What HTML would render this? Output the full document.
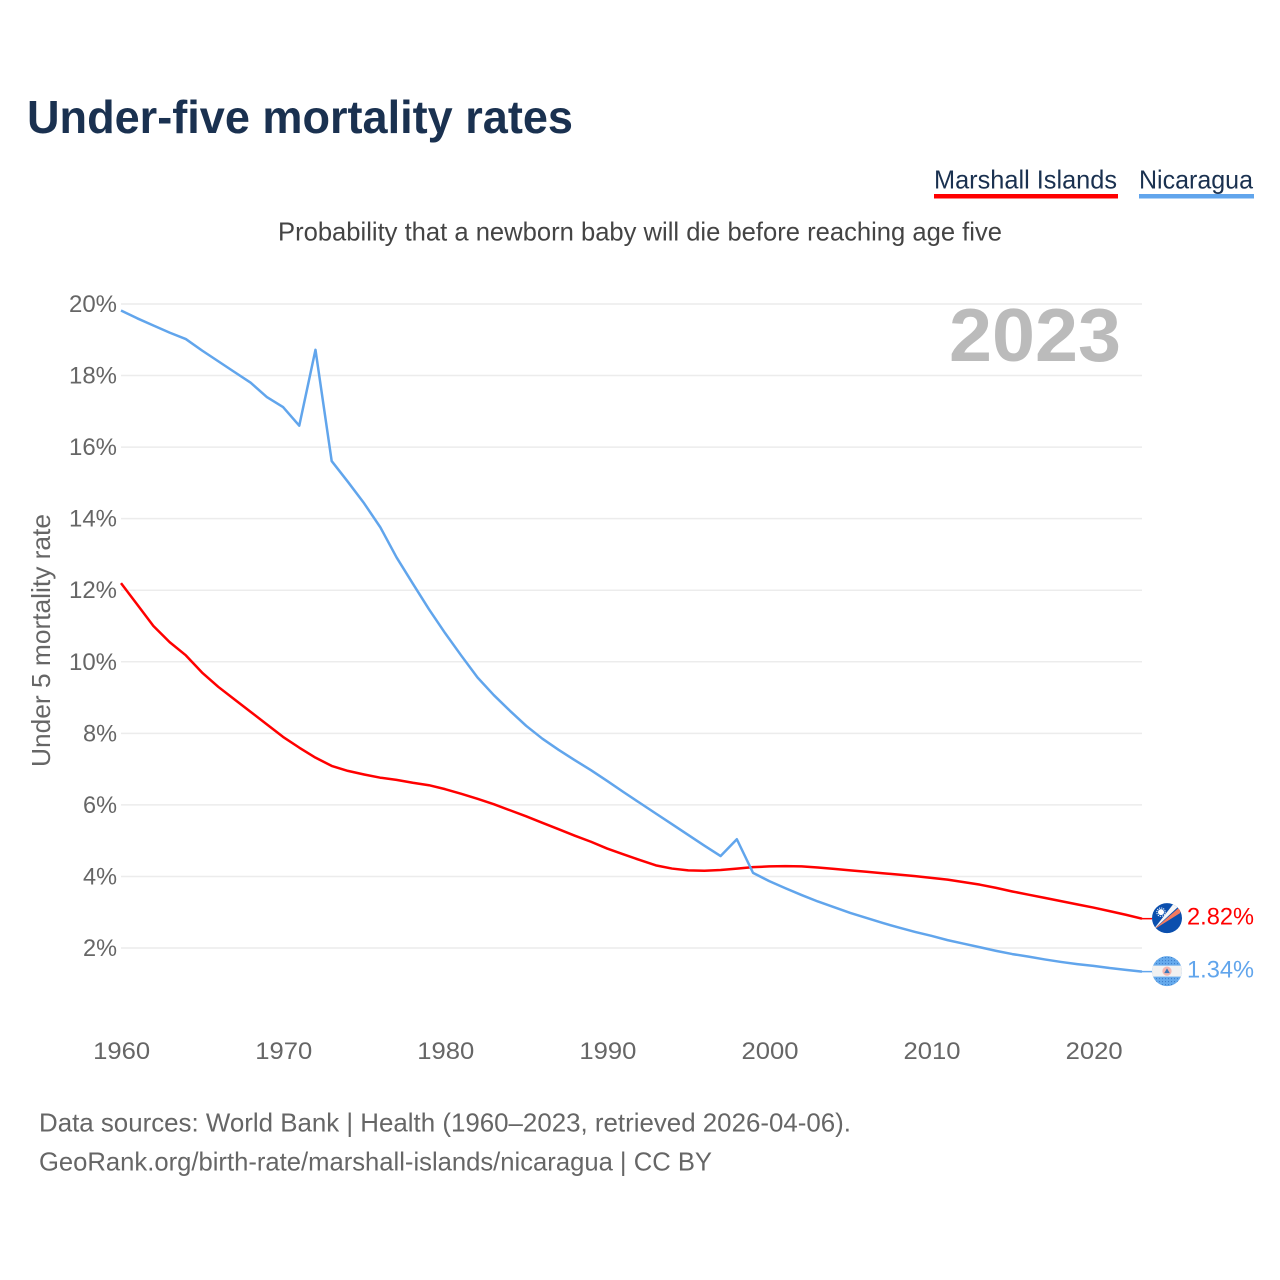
<!DOCTYPE html>
<html lang="en">
<head>
<meta charset="utf-8">
<title>Under-five mortality rates</title>
<style>
html,body{margin:0;padding:0;background:#fff;}
svg{display:block;font-family:"Liberation Sans",sans-serif;}
</style>
</head>
<body>
<svg id="chart" xmlns="http://www.w3.org/2000/svg" width="1280" height="1280" viewBox="0 0 1280 1280">
  <defs>
    <clipPath id="flag-clip"><circle cx="0" cy="0" r="15"/></clipPath>
    <pattern id="dots" width="3" height="3" patternUnits="userSpaceOnUse">
      <rect width="3" height="3" fill="#66aaec"/>
      <circle cx="1.5" cy="1.5" r="0.55" fill="#2f6fc0"/>
    </pattern>
  </defs>
  <rect width="1280" height="1280" fill="#fff"/>
  <text x="27" y="133" font-size="46" font-weight="700" fill="#1a3150" textLength="546" lengthAdjust="spacingAndGlyphs">Under-five mortality rates</text>

  <g>
    <g>
      <text x="934" y="188.5" font-size="26" fill="#1a3150" textLength="183" lengthAdjust="spacingAndGlyphs">Marshall Islands</text>
      <rect x="934" y="194" width="184" height="4.5" fill="#ff0000"/>
    </g>
    <g>
      <text x="1139" y="188.5" font-size="26" fill="#1a3150" textLength="114" lengthAdjust="spacingAndGlyphs">Nicaragua</text>
      <rect x="1139" y="194" width="115" height="4.5" fill="#61a5ec"/>
    </g>
  </g>

  <text x="278" y="240.5" font-size="26" fill="#444" textLength="724" lengthAdjust="spacingAndGlyphs">Probability that a newborn baby will die before reaching age five</text>

  <g id="grid"></g>
  <g id="yticks"></g>
  <g id="xticks"></g>

  <text x="949" y="361" font-size="75" font-weight="700" fill="#bbbbbb" textLength="172" lengthAdjust="spacingAndGlyphs">2023</text>

  <text transform="translate(50,767) rotate(-90)" font-size="26" fill="#666" textLength="253" lengthAdjust="spacingAndGlyphs">Under 5 mortality rate</text>

  <g id="series"></g>

  <g id="end-marks"></g>

  <text x="39" y="1131.5" font-size="26" fill="#666" textLength="812" lengthAdjust="spacingAndGlyphs">Data sources: World Bank | Health (1960–2023, retrieved 2026-04-06).</text>
  <text x="39" y="1170.5" font-size="26" fill="#666" textLength="673" lengthAdjust="spacingAndGlyphs">GeoRank.org/birth-rate/marshall-islands/nicaragua | CC BY</text>
</svg>
<script>
const firstYear = 1960;
const lastYear = 2023;
const yTickValues = [2, 4, 6, 8, 10, 12, 14, 16, 18, 20];
const xTickValues = [1960, 1970, 1980, 1990, 2000, 2010, 2020];
const marshallValues = [
  12.2, 11.6, 11.0, 10.55, 10.18, 9.7, 9.3, 8.95, 8.6, 8.25,
  7.9, 7.6, 7.32, 7.09, 6.95, 6.85, 6.76, 6.7, 6.62, 6.55,
  6.44, 6.31, 6.17, 6.02, 5.85, 5.68, 5.5, 5.32, 5.14, 4.97,
  4.78, 4.62, 4.46, 4.31, 4.22, 4.17, 4.16, 4.18, 4.22, 4.26,
  4.28, 4.29, 4.28, 4.25, 4.21, 4.17, 4.13, 4.09, 4.05, 4.01,
  3.96, 3.91, 3.84, 3.77, 3.68, 3.58, 3.49, 3.4, 3.31, 3.22,
  3.13, 3.03, 2.93, 2.82
];
const nicaraguaValues = [
  19.82, 19.6, 19.4, 19.2, 19.02, 18.7, 18.4, 18.1, 17.8, 17.4,
  17.12, 16.6, 18.72, 15.61, 15.03, 14.43, 13.76, 12.92, 12.19, 11.47,
  10.8, 10.17, 9.56, 9.07, 8.63, 8.21, 7.85, 7.54, 7.25, 6.97,
  6.67, 6.36, 6.06, 5.76, 5.46, 5.16, 4.86, 4.57, 5.04, 4.1,
  3.87, 3.67, 3.48, 3.3, 3.14, 2.98, 2.84, 2.7, 2.57, 2.45,
  2.34, 2.22, 2.12, 2.02, 1.92, 1.83, 1.76, 1.68, 1.61, 1.55,
  1.5, 1.44, 1.39, 1.34
];

const NS = 'http://www.w3.org/2000/svg';
const xLeft = 121, xRight = 1142, yTop = 304, yBottom = 948;
function xScale(year) {
  return xLeft + (year - firstYear) * (xRight - xLeft) / (lastYear - firstYear);
}
function yScale(v) {
  return yTop + (20 - v) * (yBottom - yTop) / 18;
}
function mk(tag, attrs, parent) {
  const el = document.createElementNS(NS, tag);
  for (const k in attrs) el.setAttribute(k, attrs[k]);
  parent.appendChild(el);
  return el;
}

const gridG = document.getElementById('grid');
const yG = document.getElementById('yticks');
const xG = document.getElementById('xticks');
const seriesG = document.getElementById('series');
const endG = document.getElementById('end-marks');

yTickValues.forEach(function (v) {
  const line = mk('line', {x1: xLeft, x2: xRight, y1: yScale(v), y2: yScale(v), stroke: '#ececec', 'stroke-width': 1.5}, gridG);
  
  
  const label = mk('text', {x: 117, y: yScale(v) + 8, 'text-anchor': 'end', 'font-size': 24, fill: '#666',
    textLength: v >= 10 ? 48 : 34, lengthAdjust: 'spacingAndGlyphs'}, yG);
  
  
  label.textContent = v + '%';
});

xTickValues.forEach(function (yr) {
  const label = mk('text', {x: xScale(yr) + 0.7, y: 1059, 'text-anchor': 'middle', 'font-size': 24, fill: '#666',
    textLength: 57, lengthAdjust: 'spacingAndGlyphs'}, xG);
  
  
  label.textContent = String(yr);
});

function linePath(values) {
  return values.map(function (v, i) {
    return (i ? 'L' : 'M') + xScale(firstYear + i).toFixed(2) + ' ' + yScale(v).toFixed(2);
  }).join(' ');
}

const marshallLine = mk('path', {d: linePath(marshallValues), fill: 'none', stroke: '#ff0000', 'stroke-width': 2.5, 'stroke-linejoin': 'round'}, seriesG);



const nicaraguaLine = mk('path', {d: linePath(nicaraguaValues), fill: 'none', stroke: '#61a5ec', 'stroke-width': 2.5, 'stroke-linejoin': 'round'}, seriesG);



function endLabel(values, color, name) {
  const v = values[values.length - 1];
  const y = yScale(v);
  const conn = mk('line', {x1: xRight, x2: 1152, y1: y, y2: y, stroke: color, 'stroke-width': 1.5}, endG);
  
  
  const txt = mk('text', {x: 1187, y: y + 6, 'font-size': 24, fill: color, textLength: 67, lengthAdjust: 'spacingAndGlyphs'}, endG);
  
  
  txt.textContent = v.toFixed(2) + '%';
  const flag = mk('g', {transform: 'translate(1167,' + (y - 0.5) + ')', 'clip-path': 'url(#flag-clip)'}, endG);
  
  
  return flag;
}

const mhFlag = endLabel(marshallValues, '#ff0000', 'marshall-islands');
mk('rect', {x: -16, y: -16, width: 32, height: 32, fill: '#0b4fae'}, mhFlag);
mk('polygon', {points: '-14,12 15,-13 13,-5', fill: '#f47a5e'}, mhFlag);
mk('polygon', {points: '-14,12 14,-14 7,-15', fill: '#f6f6f6'}, mhFlag);
mk('circle', {cx: -6, cy: -6, r: 3, fill: '#fff'}, mhFlag);
mk('circle', {cx: -6, cy: -6, r: 4.2, fill: 'none', stroke: '#fff', 'stroke-width': 1, 'stroke-dasharray': '1.2 1'}, mhFlag);

const niFlag = endLabel(nicaraguaValues, '#61a5ec', 'nicaragua');
mk('rect', {x: -16, y: -16, width: 32, height: 32, fill: 'url(#dots)'}, niFlag);
mk('rect', {x: -16, y: -5.5, width: 32, height: 11, fill: '#f1f1f1'}, niFlag);
mk('circle', {cx: 0, cy: 0, r: 4.6, fill: '#f5b6ae'}, niFlag);
mk('polygon', {points: '-2.8,2 2.8,2 0,-2.8', fill: '#3a77b8'}, niFlag);
</script>
</body>
</html>
